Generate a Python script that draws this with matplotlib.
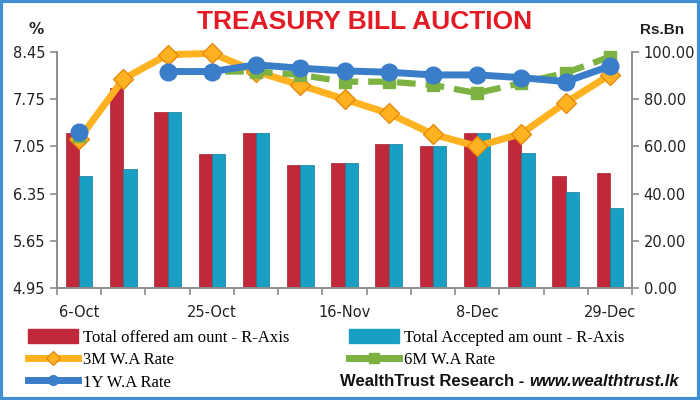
import numpy as np
import matplotlib
matplotlib.use("Agg")
import matplotlib.pyplot as plt
from matplotlib.lines import Line2D
from matplotlib.patches import Patch, Rectangle

# data
dates = ["6-Oct", "", "", "25-Oct", "", "", "16-Nov", "", "", "8-Dec", "", "", "29-Dec"]
offered = [65.8, 84.9, 74.6, 56.6, 65.8, 52.3, 52.8, 60.9, 60.3, 65.8, 64.0, 47.5, 48.6]
accepted = [47.5, 50.6, 74.6, 56.6, 65.8, 52.3, 52.8, 60.9, 60.3, 65.8, 57.0, 40.7, 34.0]
rate_3m = [7.16, 8.05, 8.41, 8.43, 8.16, 7.96, 7.75, 7.54, 7.23, 7.05, 7.24, 7.70, 8.11]
rate_6m = [7.20, np.nan, 8.16, 8.16, 8.16, 8.11, 8.01, 8.01, 7.96, 7.84, 7.99, 8.14, 8.38]
rate_1y = [7.27, np.nan, 8.16, 8.16, 8.26, 8.21, 8.17, 8.15, 8.11, 8.11, 8.07, 8.01, 8.24]

left_ticks = [4.95, 5.65, 6.35, 7.05, 7.75, 8.45]
right_ticks = [0, 20, 40, 60, 80, 100]

c_red = "#C1283A"
c_teal = "#189FC3"
c_orange = "#FFB21F"
c_green = "#7BB241"
c_blue = "#3A7DC9"
c_axis = "#8C8C8C"

fig = plt.figure(figsize=(7, 4), dpi=100)
ax = fig.add_axes([57 / 700, 1 - 288 / 400, 575 / 700, 236 / 400])
ax2 = ax.twinx()
x = np.arange(len(offered))

# bars on the host axes, shown on the right
ax.bar(x - 0.15, offered, 0.3, color=c_red, edgecolor="#A41F30", linewidth=0.5)
ax.bar(x + 0.15, accepted, 0.3, color=c_teal, edgecolor="#0F7C9C", linewidth=0.5)
ax.set_ylim(0, 100)
ax.set_xlim(-0.5, len(x) - 0.5)
ax.yaxis.tick_right()
ax.set_yticks(right_ticks)
ax.set_yticklabels(["%.2f" % v for v in right_ticks])

# rates on the twin, shown on the left
ax2.yaxis.tick_left()
ax2.plot(x, rate_3m, color=c_orange, lw=5, marker="D", ms=10,
         mfc=c_orange, mec="#E88A10", mew=1, clip_on=False)
ax2.plot(x, rate_6m, color=c_green, lw=4.5, ls=(0, (3, 1.6)), marker="s", ms=9,
         mfc=c_green, mec=c_green, clip_on=False)
ax2.plot(x, rate_1y, color=c_blue, lw=5, marker="o", ms=12,
         mfc=c_blue, mec=c_blue, clip_on=False)
ax2.set_ylim(4.95, 8.45)
ax2.set_yticks(left_ticks)
ax2.set_yticklabels(["%.2f" % v for v in left_ticks])

for a in (ax, ax2):
    a.spines["top"].set_visible(False)
    for s in ("left", "right", "bottom"):
        a.spines[s].set_color(c_axis)
        a.spines[s].set_linewidth(1.2)
    a.tick_params(axis="y", colors=c_axis, labelcolor="#222222", labelsize=10.5,
                  length=5, width=1.2)

ax.set_xticks(x)
ax.set_xticklabels(dates)
ax.tick_params(axis="x", length=0, pad=12, labelsize=10.5, labelcolor="#222222")
ax.set_xticks(np.arange(-0.5, len(x)), minor=True)
ax.tick_params(axis="x", which="minor", length=5, width=1.2, color=c_axis)

# title and axis captions
fig.text(365 / 700, 1 - 22 / 400, "TREASURY BILL AUCTION", ha="center", va="center",
         color="#E21B24", fontsize=19, fontweight="bold", family="Liberation Sans")
fig.text(36 / 700, 1 - 30 / 400, "%", ha="center", va="center",
         fontsize=11, fontweight="bold", color="#222222")
fig.text(662 / 700, 1 - 30 / 400, "Rs.Bn", ha="center", va="center",
         fontsize=11, fontweight="bold", color="#222222", family="Liberation Sans")

# legend
handles = [
    Patch(facecolor=c_red, edgecolor=c_red),
    Line2D([], [], color=c_orange, lw=5, marker="D", ms=7, mfc=c_orange, mec="#E88A10"),
    Line2D([], [], color=c_blue, lw=5, marker="o", ms=7, mfc=c_blue, mec=c_blue),
    Patch(facecolor=c_teal, edgecolor=c_teal),
    Line2D([], [], color=c_green, lw=5, marker="s", ms=7, mfc=c_green, mec=c_green),
]
labels = ["Total offered am ount - R-Axis", "3M W.A Rate", "1Y W.A Rate",
          "Total Accepted am ount - R-Axis", "6M W.A Rate"]
fig.legend(handles, labels, ncol=2, loc="upper left",
           bbox_to_anchor=(28 / 700, 1 - 329 / 400), frameon=False,
           prop={"family": "Liberation Serif", "size": 12},
           handlelength=3.0, handleheight=0.9, handletextpad=0.3,
           columnspacing=3.6, labelspacing=0.35, borderaxespad=0, borderpad=0)

t1 = fig.text(340 / 700, 1 - 382 / 400, "WealthTrust Research - ", ha="left", va="center",
              fontsize=12, fontweight="bold", family="Liberation Sans", color="#111111")
fig.add_artist(plt.Annotation("www.wealthtrust.lk", xy=(1, 0.5), xycoords=t1, va="center",
                              ha="left", fontsize=12, fontweight="bold", style="italic",
                              family="Liberation Sans", color="#111111"))

# frame around the figure
fig.add_artist(Rectangle((0.002, 0.003), 0.996, 0.994, transform=fig.transFigure,
                         fill=False, edgecolor="#3F8FD2", linewidth=3))

fig.savefig("out.png", dpi=100)
